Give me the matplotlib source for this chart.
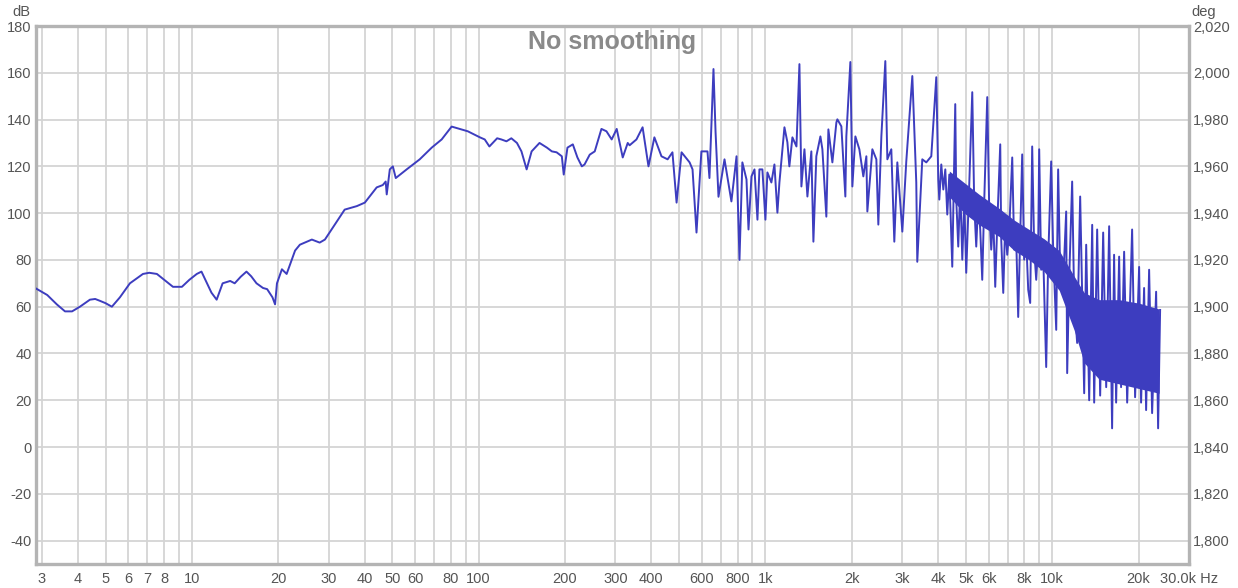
import numpy as np
import matplotlib
matplotlib.use("Agg")
import matplotlib.pyplot as plt

trace_hz = [2.84, 3.13, 3.38, 3.61, 3.82, 4.07, 4.41, 4.6, 4.78, 5.0, 5.26, 5.61, 6.08, 6.75, 7.1, 7.55,
            8.59, 9.23, 9.8, 10.4, 10.8, 11.7, 12.2, 12.8, 13.6, 14.1, 14.8, 15.5, 16.1, 16.8, 17.7,
            18.3, 19.1, 19.5, 19.8, 20.6, 21.4, 22.9, 23.8, 26.2, 27.9, 29.1, 30.7,
            34.1, 37.6, 40.1, 44.1, 46.3, 47.4, 47.8, 49.0, 50.2, 51.4, 56.1, 62.3, 68.6, 74.3,
            80.5, 85.9, 91.6, 101, 105, 109, 116, 120, 125, 130, 136, 141, 147, 153, 163, 173,
            180, 187, 195, 198, 204, 213, 221, 229, 234, 244, 254, 268, 279, 291, 303, 318, 331,
            336, 355, 373, 391, 410, 434, 456, 474, 490, 510, 544, 557, 575, 598, 628, 638, 659,
            670, 686, 720, 761, 793,
            812, 831, 859, 873, 894, 916, 938, 953, 976, 1000, 1016, 1049, 1075, 1101, 1119,
            1165, 1193, 1212, 1242, 1283, 1314, 1335, 1368, 1401, 1446, 1470, 1505, 1555, 1580,
            1631, 1658, 1712, 1768, 1782, 1840, 1900, 1915, 1978, 2010, 2059, 2126, 2195, 2249,
            2267, 2360, 2437, 2476, 2537, 2619, 2662, 2748, 2815, 2884, 3002, 3099, 3253, 3358,
            3385, 3524, 3639, 3788,
            3943, 4007, 4040, 4105, 4172, 4239, 4307, 4378, 4483, 4592, 4629, 4704, 4780, 4859,
            4937, 5015, 5138, 5264, 5348, 5435, 5524, 5612, 5703, 5797, 5937, 6032, 6130, 6229,
            6330, 6433, 6590, 6643, 6751, 6860, 6970, 7084, 7256, 7372, 7492, 7612, 7736, 7861,
            7987, 8118, 8250, 8381, 8517, 8656, 8797, 8937, 9010, 9154, 9304, 9531, 9685, 9920,
            10080, 10330, 10490, 10660, 10830, 11010, 11190, 11280, 11460, 11740, 11930, 12220,
            12520, 12930, 13140, 13460, 13790, 14010, 14350, 14700, 15060, 15430, 15800, 16180,
            16440, 16710, 17120, 17390, 17820, 18260, 19000, 19460, 20100, 20420, 20920, 21260,
            21780, 22310, 23040, 23410, 23790]
trace_db = [68, 65, 61, 58, 58, 60, 63, 63.3, 62.5, 61.5, 60, 64, 70, 74, 74.5, 74,
            68.5, 68.5, 71.5, 74, 75, 66, 63, 70, 71, 70, 72.8, 75, 73, 70, 68,
            67.5, 64, 61, 70, 76, 74, 84, 86.5, 88.7, 87.4, 88.7, 93,
            101.5, 103, 104.5, 111, 112, 113.5, 108, 118.7, 120, 115, 118.7, 123, 128, 131.5,
            137, 136, 135, 132.4, 131.5, 128.5, 132, 131.5, 130.7, 132, 130, 126.4, 118.7, 126.4, 130, 128,
            126.4, 126, 124.3, 116.5, 128, 129.4, 123.8, 120, 120.8, 125, 126.4, 136, 135, 131.5, 136, 123.8, 130,
            129, 131.5, 136.7, 120, 132.4, 124.3, 123, 126, 104.5, 126, 121.7, 118.7, 91.7, 126.4, 126.4, 115, 161.6,
            134.8, 107, 123, 105, 124.3,
            80, 121.7, 114.4, 93, 115.7, 118.7, 97.2, 118.7, 118.7, 97.2, 117.4, 113.1, 120.8, 100.2, 113.1,
            136.7, 130.3, 120, 132.4, 128.5, 163.7, 111.4, 127.3, 107.1, 126.4, 87.8, 124.3, 132.8, 127.3,
            98.5, 135.8, 121.7, 138.8, 140.1, 137.1, 107.1, 132.8, 164.6, 111.4, 132.8, 127.3, 115.7, 124.3,
            100.7, 127.3, 123, 95.1, 132.8, 165, 123, 127.3, 87.8, 121.7, 92.1, 122.1, 158.6, 113.1,
            79.2, 123, 121.7, 124.3,
            158.1, 114.4, 105.8, 120.8, 110.1, 118.7, 99.4, 116.5, 77.1, 146.6, 105.8, 85.7, 111.4, 80.1,
            105.8, 74.5, 112.2, 151.7, 103.7, 85.7, 105.8, 93, 71.5, 105.8, 149.6, 101.5, 84.4, 99.4,
            68.5, 95.1, 129.4, 88.7, 65.9, 96, 82.2, 93, 123.8, 84.4, 88.7, 55.6, 90.8, 125.1,
            80.1, 88.7, 67.2, 61.6, 128.5, 84.4, 71.5, 86.5, 127.3, 75.8, 82.2, 34.2, 80.1, 122.1,
            84.4, 50.1, 118.7, 75.8, 67.2, 80.1, 100.7, 31.6, 71.5, 113.5, 62.9, 44.5,
            107.1, 23, 86.5, 20, 95, 19, 93, 22, 91.7, 25.6, 94.4, 8,
            82.2, 19, 81.4, 25.6, 83.5, 19, 93, 21.3, 77, 19, 68, 15.8,
            75.8, 14.5, 66.4, 8, 58.6]

# dense part above 4 kHz, upper and lower edge of the filled band
band_hz = [4378, 4937, 5567, 6537, 7372, 8316, 9378, 10580, 11930, 12930, 14580, 17120, 20100, 23600]
band_top = [118, 113, 108, 102, 97, 93, 89, 84, 73, 66, 63, 63, 61.5, 59]
band_low = [107, 100, 95, 90, 84, 80, 75, 67, 50, 36, 29, 27, 25, 23]

x_ticks = [3, 4, 5, 6, 7, 8, 10, 20, 30, 40, 50, 60, 80, 100, 200, 300, 400, 600, 800,
           1000, 2000, 3000, 4000, 5000, 6000, 8000, 10000, 20000, 30000]
x_labels = ["3", "4", "5", "6", "7", "8", "10", "20", "30", "40", "50", "60", "80", "100",
            "200", "300", "400", "600", "800", "1k", "2k", "3k", "4k", "5k", "6k", "8k",
            "10k", "20k", "30.0k Hz"]
db_ticks = list(range(-40, 181, 20))
deg_offset = 1840

plt.rcParams["font.family"] = ["Liberation Sans", "DejaVu Sans"]
plt.rcParams["axes.unicode_minus"] = False
grey = "#555555"
line_col = "#3d3dbf"

fig = plt.figure(figsize=(12.38, 5.88), dpi=100)
ax = fig.add_axes([36 / 1238, 1 - 564 / 588, (1189 - 36) / 1238, (564 - 26) / 588])

# grid lines at every 1..9 multiple
grid_x = [m * 10 ** e for e in range(0, 5) for m in range(1, 10)]
grid_x = [g for g in grid_x if 2.9 < g < 29990]
for g in grid_x:
    ax.axvline(g, color="#d4d4d4", lw=1.3, zorder=0)
for d in db_ticks:
    ax.axhline(d, color="#d4d4d4", lw=1.3, zorder=0)

ax.fill_between(band_hz, band_low, band_top, color=line_col, lw=0, zorder=2)
ax.plot(trace_hz, trace_db, color=line_col, lw=1.4, zorder=3)

ax.set_xscale("log")
ax.set_xlim(2.86, 30000)
ax.set_ylim(-50, 180)
ax.set_xticks(x_ticks)
ax.set_xticklabels(x_labels)
ax.minorticks_off()
ax.set_yticks(db_ticks)
ax.tick_params(length=0, labelsize=10.5, labelcolor=grey)
ax.tick_params(axis="x", pad=6)
ax.tick_params(axis="y", pad=3)
for s in ax.spines.values():
    s.set_color("#b4b4b4")
    s.set_linewidth(2.4)

ax2 = ax.twinx()
ax2.set_ylim(-50 + deg_offset, 180 + deg_offset)
ax2.set_yticks([d + deg_offset for d in db_ticks])
ax2.set_yticklabels(["{:,}".format(d + deg_offset) for d in db_ticks])
ax2.tick_params(length=0, labelsize=10.5, labelcolor=grey, pad=3)
for s in ax2.spines.values():
    s.set_visible(False)

ax.text(0.5, 0.993, "No smoothing", transform=ax.transAxes, ha="center", va="top",
        fontsize=18, fontweight="bold", color="#8a8a8a")
fig.text(30 / 1238, 1 - 12 / 588, "dB", ha="right", va="center", fontsize=10.5, color=grey)
fig.text(1191 / 1238, 1 - 12 / 588, "deg", ha="left", va="center", fontsize=10.5, color=grey)

fig.savefig("out.png", dpi=100)
